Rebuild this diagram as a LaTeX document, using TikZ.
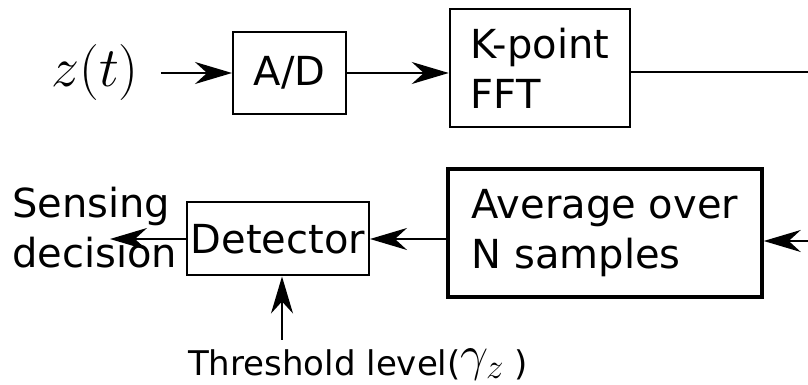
\RequirePackage{fix-cm}
\documentclass[tikz,border=0pt]{standalone}
\usepackage[no-math]{fontspec}
\setmainfont{DejaVu Sans}
\usetikzlibrary{arrows.meta}

\tikzset{
  blk/.style={draw,line width=2pt,align=left,inner sep=0pt},
  big/.style={font=\fontsize{40}{50}\selectfont},
  wire/.style={line width=1.8pt},
  sig/.style={wire,-{Stealth[length=37pt,width=22pt,inset=12pt]}},
}

\begin{document}
\begin{tikzpicture}[x=1pt,y=1pt]
\useasboundingbox (0,0) rectangle (808,385);
\node[inner sep=0pt,font=\fontsize{56}{60}\selectfont] (zt) at (95,312) {$z(t)$};
\node[blk,big,minimum width=113pt,minimum height=82pt] (ad) at (289.5,312) {A/D};
\node[blk,big,line width=2.5pt,minimum width=180pt,minimum height=118pt] (fft) at (540,317) {K-point\\FFT};
\node[blk,big,line width=3.5pt,minimum width=314pt,minimum height=128pt] (avg) at (605,152) {Average over\\N samples};
\node[blk,big,minimum width=182pt,minimum height=73pt] (det) at (278,146) {Detector};
\node[big,align=left,inner sep=0pt,anchor=west] (dec) at (12,157) {Sensing\\decision};
\node[inner sep=0pt,anchor=base west,font=\fontsize{34}{40}\selectfont] (thr) at (188,9)
  {Threshold level(\raisebox{5pt}{\fontsize{50}{56}\selectfont$\gamma_{z}$} )};
\coordinate (fftout) at (808,313);
\coordinate (avgin) at (808,144);
\coordinate (decout) at (110,146);
\coordinate (thrin) at (282,45);
\draw[sig,shorten <=22pt] (zt.east) -- (ad.west);
\draw[sig] (ad.east) -- (ad.east -| fft.west);
\draw[wire] (fft.east |- fftout) -- (fftout);
\draw[sig] (avgin) -- (avgin -| avg.east);
\draw[sig] (avg.west |- det.east) -- (det.east);
\draw[sig] (det.west) -- (decout);
\draw[sig] (thrin) -- (thrin |- det.south);
\end{tikzpicture}
\end{document}
